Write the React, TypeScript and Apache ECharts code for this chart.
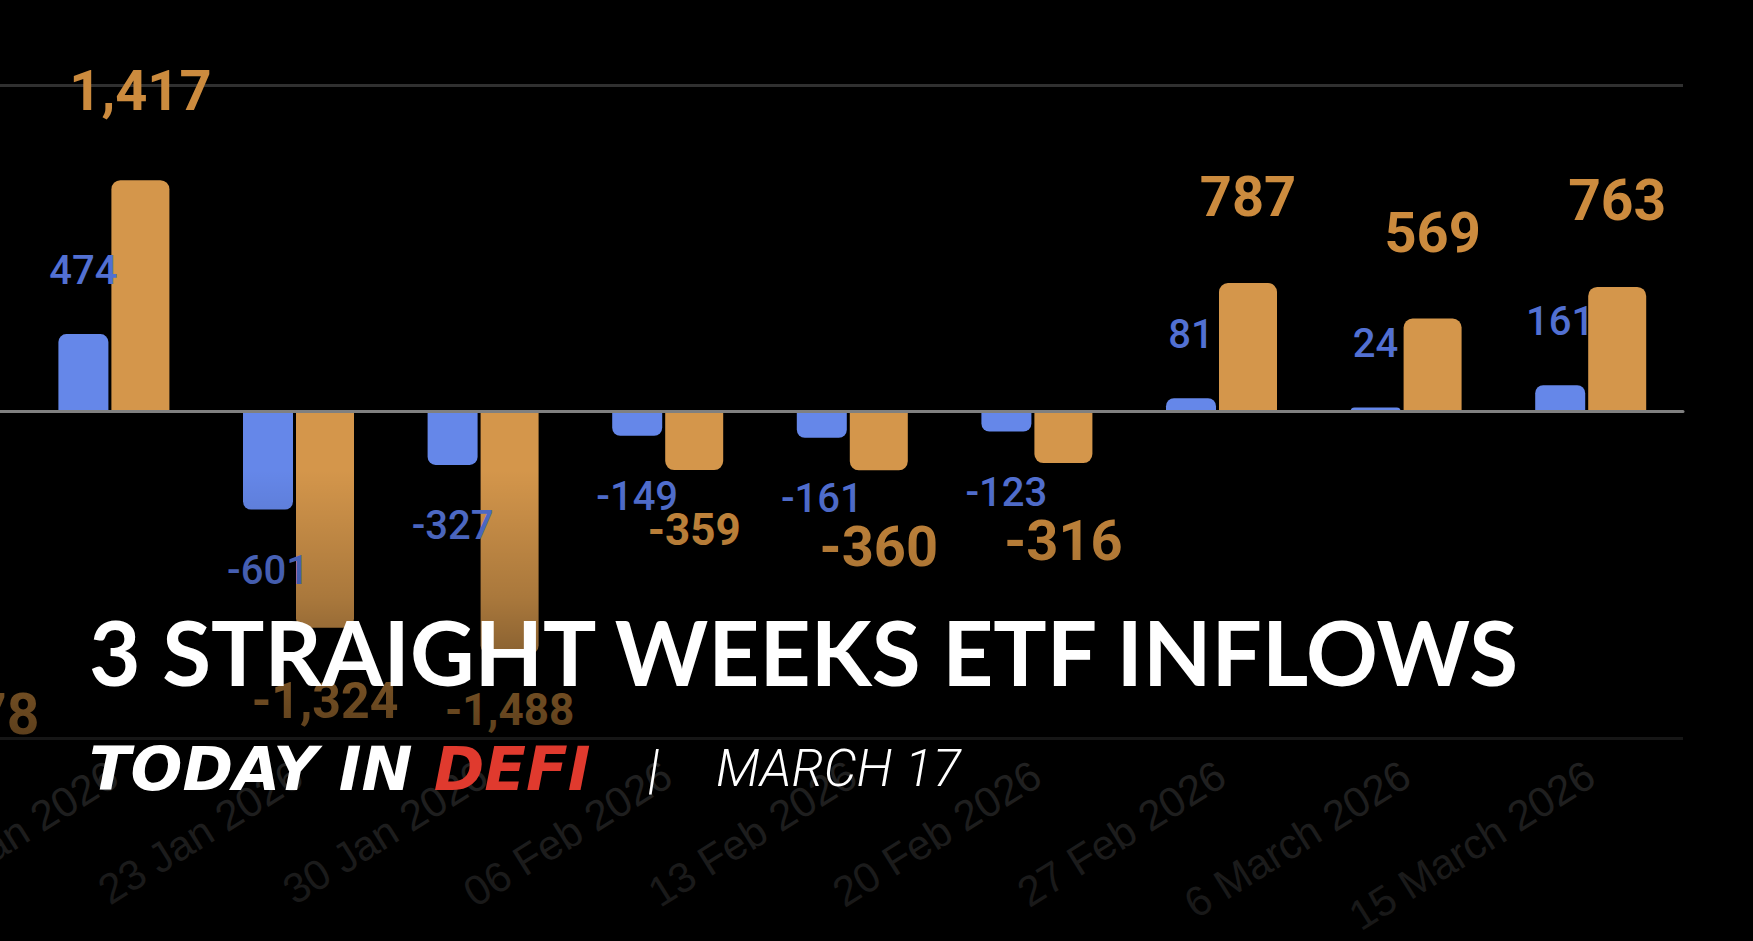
import React, { useEffect, useRef } from "react";
import * as echarts from "echarts";

// ---- data (weekly ETF net flows, US$ millions) ----
const categories = [
  "09 Jan 2026",
  "16 Jan 2026",
  "23 Jan 2026",
  "30 Jan 2026",
  "06 Feb 2026",
  "13 Feb 2026",
  "20 Feb 2026",
  "27 Feb 2026",
  "6 March 2026",
  "15 March 2026",
];
const ethFlows: (number | null)[] = [null, 474, -601, -327, -149, -161, -123, 81, 24, 161];
const btcFlows: number[] = [-1478, 1417, -1324, -1488, -359, -360, -316, 787, 569, 763];

const yTicks = [-2000, 0, 2000];

// ---- label styling per bar (kept apart from the data) ----
const btcLabelSize = [57, 56, 50, 44, 44, 56, 56, 56, 56, 57];
const btcLabelDist = [33, 61, 48, 34, 38, 49, 50, 58, 58, 58];

const BLUE = "#6587E9";
const ORANGE = "#D4964B";
const BLUE_LABEL = "#5270D2";
const ORANGE_LABEL = "#CC8B3E";

const fmt = (v: number) => v.toLocaleString("en-US");

export default function App() {
  const ref = useRef<HTMLDivElement>(null);

  useEffect(() => {
    if (!ref.current) return;
    const chart = echarts.init(ref.current, undefined, { renderer: "svg" });

    const ethData = ethFlows.map((v) =>
      v === null
        ? null
        : {
            value: v,
            itemStyle: { borderRadius: v >= 0 ? [8, 8, 0, 0] : [0, 0, 8, 8] },
            label: {
              position: v >= 0 ? "top" : "bottom",
              distance: v >= 0 ? 44 : 41,
            },
          }
    );
    const btcData = btcFlows.map((v, i) => ({
      value: v,
      itemStyle: { borderRadius: v >= 0 ? [9, 9, 0, 0] : [0, 0, 9, 9] },
      label: {
        position: v >= 0 ? "top" : "bottom",
        distance: btcLabelDist[i],
        fontSize: btcLabelSize[i],
      },
    }));

    chart.setOption({
      animation: false,
      backgroundColor: "#000000",
      grid: {
        left: -163,
        right: 70,
        top: 85,
        bottom: 203,
        containLabel: false,
        outerBoundsMode: "none",
      },
      xAxis: {
        type: "category",
        data: categories,
        axisTick: { show: false },
        axisLine: { show: true, onZero: true, lineStyle: { color: "#808080", width: 3 } },
        axisLabel: {
          interval: 0,
          rotate: 32,
          margin: 33,
          color: "#4c4c4c",
          fontSize: 42,
          fontFamily: "Liberation Sans",
        },
        z: 5,
      },
      yAxis: {
        type: "value",
        min: yTicks[0],
        max: yTicks[yTicks.length - 1],
        interval: 2000,
        axisLabel: { show: false },
        axisLine: { show: false },
        axisTick: { show: false },
        splitLine: { show: true, lineStyle: { color: "#303030", width: 3 } },
      },
      series: [
        {
          name: "ETH ETF",
          type: "bar",
          data: ethData,
          barWidth: 50,
          barGap: "6%",
          itemStyle: { color: BLUE },
          label: {
            show: true,
            color: BLUE_LABEL,
            fontSize: 40,
            fontFamily: "Roboto",
            fontWeight: 500,
            formatter: (p: any) => fmt(p.value),
          },
        },
        {
          name: "BTC ETF",
          type: "bar",
          data: btcData,
          barWidth: 58,
          itemStyle: { color: ORANGE },
          label: {
            show: true,
            color: ORANGE_LABEL,
            fontFamily: "Roboto",
            fontWeight: "bold",
            formatter: (p: any) => fmt(p.value),
          },
        },
      ],
      graphic: [
        {
          type: "rect",
          z: 50,
          silent: true,
          shape: { x: 0, y: 470, width: 1753, height: 471 },
          style: {
            fill: new echarts.graphic.LinearGradient(0, 0, 0, 1, [
              { offset: 0, color: "rgba(0,0,0,0)" },
              { offset: 0.27, color: "rgba(0,0,0,0.2)" },
              { offset: 0.49, color: "rgba(0,0,0,0.47)" },
              { offset: 0.57, color: "rgba(0,0,0,0.55)" },
              { offset: 1, color: "rgba(0,0,0,0.7)" },
            ]),
          },
        },
        {
          type: "text",
          z: 100,
          x: 89,
          y: 651,
          style: {
            text: "3 STRAIGHT WEEKS ETF INFLOWS",
            fill: "#ffffff",
            fontFamily: "Lato",
            fontWeight: "bold",
            fontSize: 89,
            verticalAlign: "middle",
            align: "left",
          },
        },
        {
          type: "text",
          z: 100,
          x: 89,
          y: 768,
          style: {
            text: "{w|TODAY IN }{r|DEFI}",
            verticalAlign: "middle",
            align: "left",
            rich: {
              w: {
                fill: "#ffffff",
                fontFamily: "DejaVu Sans",
                fontWeight: "bold",
                fontStyle: "italic",
                fontSize: 61,
              },
              r: {
                fill: "#E03A2E",
                fontFamily: "DejaVu Sans",
                fontWeight: "bold",
                fontStyle: "italic",
                fontSize: 61,
              },
            },
          },
        },
        {
          type: "text",
          z: 100,
          x: 648,
          y: 768,
          style: {
            text: "|",
            fill: "#ffffff",
            fontFamily: "Roboto",
            fontWeight: 300,
            fontStyle: "italic",
            fontSize: 54,
            verticalAlign: "middle",
            align: "left",
          },
        },
        {
          type: "text",
          z: 100,
          x: 716,
          y: 768,
          style: {
            text: "MARCH 17",
            fill: "#ffffff",
            fontFamily: "Roboto",
            fontWeight: 300,
            fontStyle: "italic",
            fontSize: 52,
            verticalAlign: "middle",
            align: "left",
          },
        },
      ],
    });

    return () => chart.dispose();
  }, []);

  return (
    <div
      ref={ref}
      style={{
        position: "fixed",
        left: 0,
        top: 0,
        width: "1753px",
        height: "941px",
        background: "#000",
      }}
    />
  );
}
